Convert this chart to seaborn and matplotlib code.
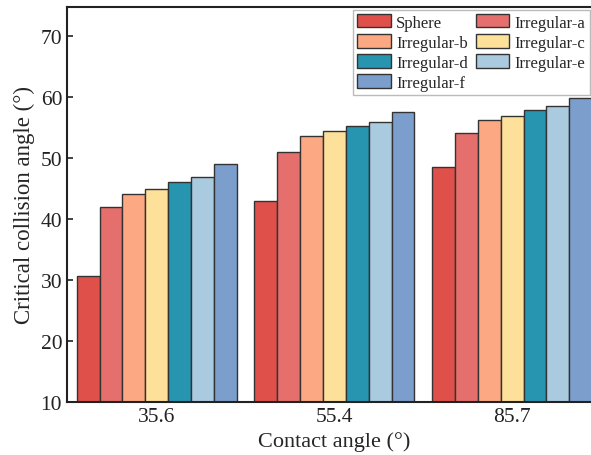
import matplotlib
matplotlib.use("Agg")
import matplotlib.pyplot as plt
import seaborn as sns
import pandas as pd

contact_angles = ["35.6", "55.4", "85.7"]
shapes = ["Sphere", "Irregular-a", "Irregular-b", "Irregular-c",
          "Irregular-d", "Irregular-e", "Irregular-f"]
sphere = [30.7, 42.9, 48.6]
irregular_a = [42.0, 51.0, 54.1]
irregular_b = [44.2, 53.7, 56.2]
irregular_c = [45.0, 54.5, 56.9]
irregular_d = [46.1, 55.3, 57.9]
irregular_e = [46.9, 55.9, 58.5]
irregular_f = [49.1, 57.6, 59.8]
colors = ["#DF504A", "#E46F6C", "#FCA983", "#FDE19B", "#2794B0", "#AACAE0", "#7C9ECC"]

series = [sphere, irregular_a, irregular_b, irregular_c, irregular_d, irregular_e, irregular_f]
rows = []
for name, vals in zip(shapes, series):
    for ca, v in zip(contact_angles, vals):
        rows.append({"Contact angle": ca, "Shape": name, "Value": v})
df = pd.DataFrame(rows)

sns.set_style("white")
plt.rcParams["font.family"] = ["Liberation Serif", "DejaVu Serif"]

fig = plt.figure(figsize=(5.91, 4.56), dpi=100)
ax = fig.add_axes([67/591, 53/456, 534/591, 395/456])

sns.barplot(data=df, x="Contact angle", y="Value", hue="Shape",
            order=contact_angles, hue_order=shapes, palette=colors,
            width=0.9, edgecolor="#333333", linewidth=1.0, ax=ax,
            saturation=1)

ax.set_ylim(10, 74.8)
ax.set_xlim(-0.505, 2.5)
ax.set_yticks([10, 20, 30, 40, 50, 60, 70])
ax.set_xlabel("Contact angle (°)", fontsize=16)
ax.set_ylabel("Critical collision angle (°)", fontsize=16.5)
ax.tick_params(axis="both", direction="in", labelsize=15.5, length=4, width=1.2,
               left=True, bottom=True, colors="#222222")
ax.tick_params(axis="both", labelcolor="#222222")
for s in ["left", "bottom", "top", "right"]:
    ax.spines[s].set_linewidth(1.5)
    ax.spines[s].set_color("#222222")

handles, labels = ax.get_legend_handles_labels()
idx = [0, 2, 4, 6, 1, 3, 5]
ax.legend([handles[i] for i in idx], [labels[i] for i in idx], ncol=2, loc="upper left",
          bbox_to_anchor=(353/591, 1 - 11/456), bbox_transform=fig.transFigure,
          fontsize=12, frameon=True, fancybox=False, framealpha=1,
          edgecolor="#bbbbbb", handlelength=2.0, handleheight=0.85,
          handletextpad=0.35, columnspacing=0.45, labelspacing=0.22,
          borderpad=0.25, borderaxespad=0)

fig.savefig("out.png", dpi=100)
